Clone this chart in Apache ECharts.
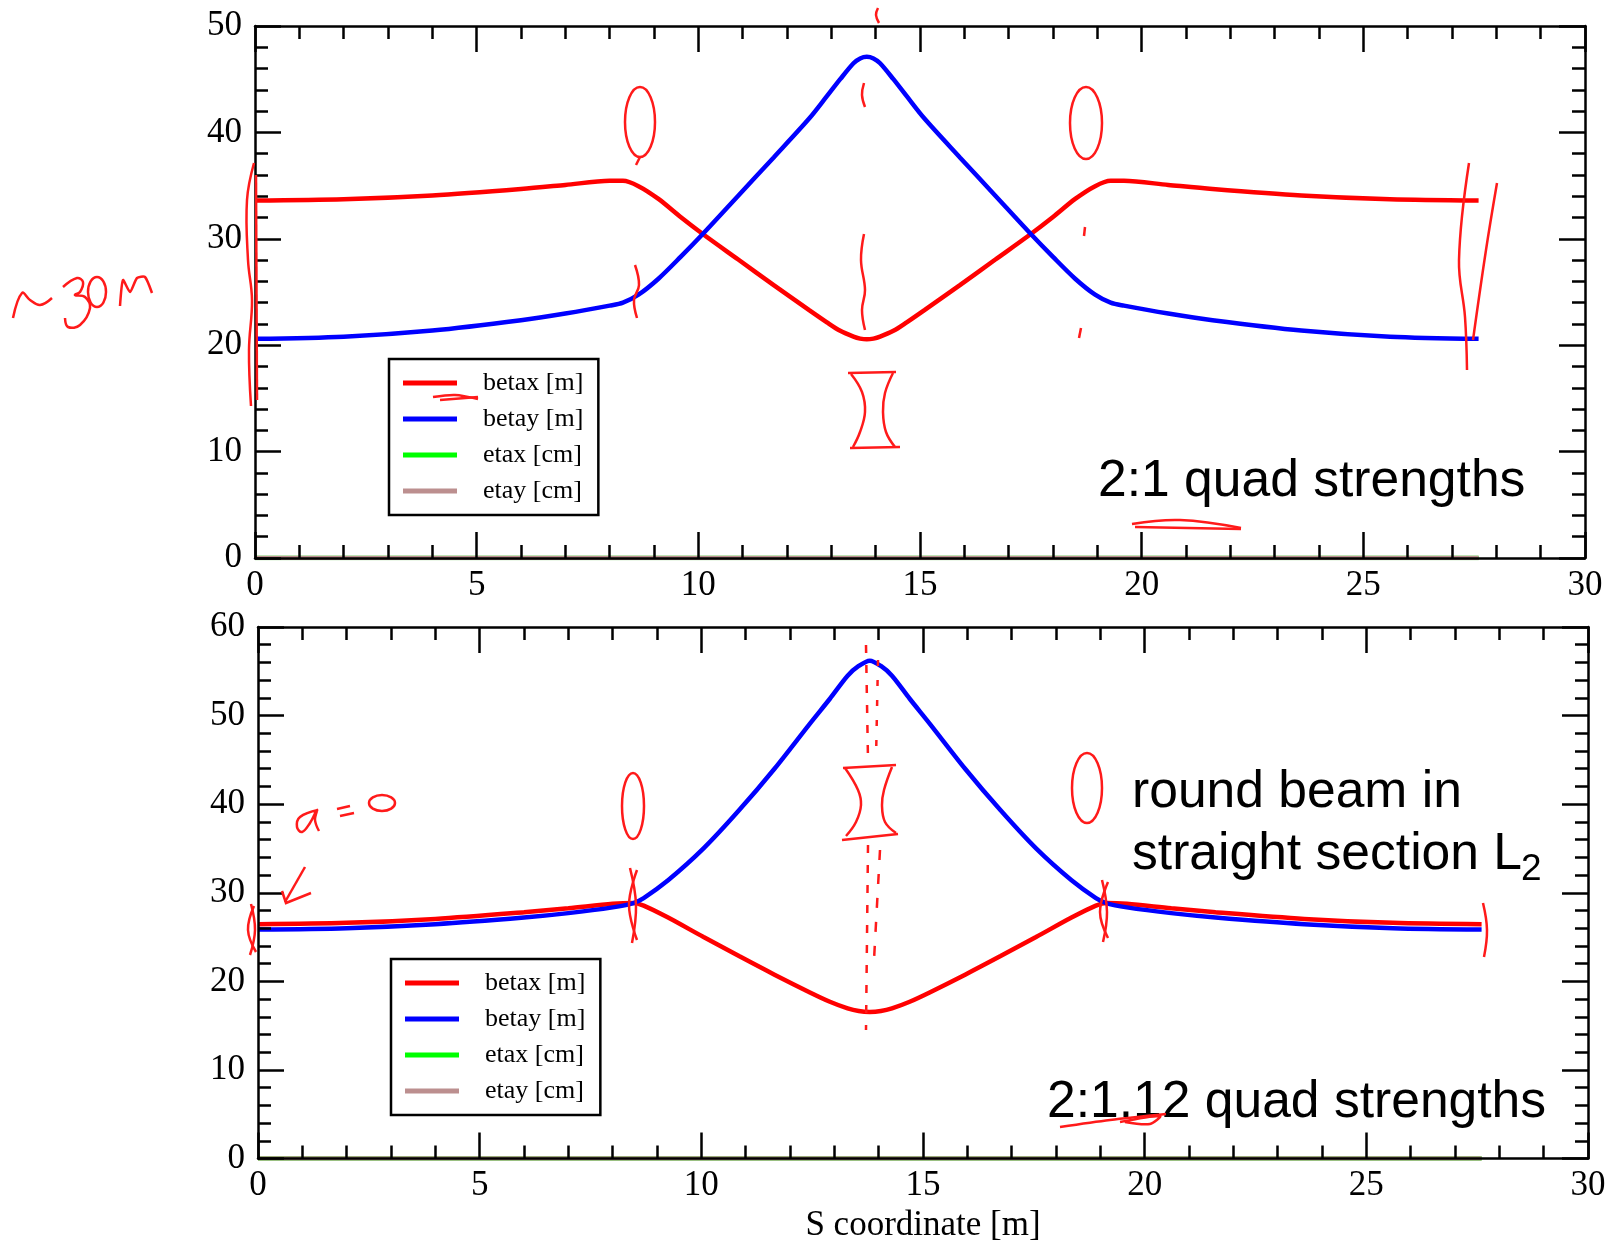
<!DOCTYPE html>
<html lang="en">
<head>
    <meta charset="UTF-8">
    <title>beta functions</title>
    <style>
        html, body {margin: 0; padding: 0; background: #fff;}
        #main {width: 1611px; height: 1244px;}
    </style>
</head>
<body>
<div id="main"></div>
<script src="https://cdn.jsdelivr.net/npm/echarts@6/dist/echarts.min.js"></script>
<script>
    // 上图: 2:1 quad strengths
    const sTop = [0, 2, 4, 6, 7, 8, 8.3, 8.65, 9.1, 9.6, 10.1, 10.9, 11.7, 12.5, 12.9, 13.2, 13.5,
        13.65, 13.8, 13.95, 14.1, 14.4, 14.7, 15.1, 15.9, 16.7, 17.5, 18.0, 18.5, 18.95, 19.3,
        19.6, 20.6, 21.6, 23.6, 25.6, 27.6]
    const betaxTop = [33.6, 33.72, 34.08, 34.68, 35.06, 35.45, 35.45, 34.95, 33.75, 32.05, 30.45,
        28.05, 25.65, 23.3, 22.15, 21.35, 20.8, 20.62, 20.55, 20.62, 20.8, 21.35, 22.15, 23.3,
        25.65, 28.05, 30.45, 32.05, 33.75, 34.95, 35.45, 35.45, 35.06, 34.68, 34.08, 33.72, 33.6]
    const betayTop = [20.6, 20.8, 21.38, 22.35, 22.98, 23.72, 24.0, 24.75, 26.25, 28.3, 30.45,
        34.05, 37.65, 41.3, 43.4, 45.0, 46.5, 46.95, 47.1, 46.95, 46.5, 45.0, 43.4, 41.3, 37.65,
        34.05, 30.45, 28.3, 26.25, 24.75, 24.0, 23.72, 22.98, 22.35, 21.38, 20.8, 20.6]

    // 下图: 2:1.12 quad strengths
    const sBot = [0, 2, 4, 6, 7, 8, 8.45, 8.7, 9.25, 10.05, 10.85, 11.65, 12.45, 12.9, 13.3, 13.55,
        13.8, 14.05, 14.3, 14.7, 15.15, 15.95, 16.75, 17.55, 18.35, 18.9, 19.15, 19.6, 20.6,
        21.6, 23.6, 25.6, 27.6]
    const betaxBot = [26.45, 26.6, 27.05, 27.8, 28.25, 28.75, 28.85, 28.55, 27.2, 25.0, 22.85,
        20.75, 18.75, 17.7, 16.95, 16.65, 16.55, 16.65, 16.95, 17.7, 18.75, 20.75, 22.85, 25.0,
        27.2, 28.55, 28.85, 28.75, 28.25, 27.8, 27.05, 26.6, 26.45]
    const betayBot = [25.85, 26.0, 26.45, 27.2, 27.7, 28.35, 28.8, 29.4, 31.4, 35.0, 39.3,
        44.0, 49.1, 51.9, 54.5, 55.6, 56.2, 55.6, 54.5, 51.9, 49.1, 44.0, 39.3, 35.0, 31.4, 29.4,
        28.8, 28.35, 27.7, 27.2, 26.45, 26.0, 25.85]

    // 色散 (两图都为0)
    const sEta = [0, 27.6]
    const etaxVals = [0, 0]
    const etayVals = [0, 0]

    const names = ['betax [m]', 'betay [m]', 'etax [cm]', 'etay [cm]']
    const colors = ['#ff0000', '#0000ff', '#00ff00', '#bc8f8f']

    const serif = '"Liberation Serif", "Times New Roman", serif'
    const sans = '"Liberation Sans", Arial, sans-serif'
    const red = '#ff1a1a'

    function pairs(s, v) {
        return s.map((x, i) => [x, v[i]])
    }

    function xAxis(grid, pos, showLabel, extra) {
        return Object.assign({
            type: 'value', gridIndex: grid, position: pos, min: 0, max: 30, interval: 5, z: 5,
            axisLine: {show: true, onZero: false, lineStyle: {color: '#000', width: 2.5}},
            axisTick: {show: true, inside: true, length: 26, lineStyle: {color: '#000', width: 2.5}},
            minorTick: {show: true, splitNumber: 5, length: 13, lineStyle: {color: '#000', width: 2.5}},
            axisLabel: {show: showLabel, color: '#000', fontSize: 35, fontFamily: serif, margin: 10},
            splitLine: {show: false}
        }, extra || {})
    }

    function yAxis(grid, pos, max, showLabel) {
        return {
            type: 'value', gridIndex: grid, position: pos, min: 0, max: max, interval: 10, z: 5,
            axisLine: {show: true, onZero: false, lineStyle: {color: '#000', width: 2.5}},
            axisTick: {show: true, inside: true, length: 26, lineStyle: {color: '#000', width: 2.5}},
            minorTick: {show: true, splitNumber: 5, length: 13, lineStyle: {color: '#000', width: 2.5}},
            axisLabel: {show: showLabel, color: '#000', fontSize: 35, fontFamily: serif, margin: 13},
            splitLine: {show: false}
        }
    }

    function lineSeries(name, color, data, axis) {
        return {
            name: name, type: 'line', xAxisIndex: axis, yAxisIndex: axis,
            data: data, showSymbol: false, smooth: 0.3, color: color,
            lineStyle: {color: color, width: 4.5}
        }
    }

    function legend(left, top) {
        return {
            data: names, orient: 'vertical', left: left, top: top, icon: 'rect',
            itemWidth: 54, itemHeight: 5, itemGap: 6, selectedMode: false,
            padding: [9, 15, 9, 14], backgroundColor: '#fff',
            borderColor: '#000', borderWidth: 2.5,
            textStyle: {fontSize: 26, fontFamily: serif, color: '#000', lineHeight: 30, padding: [0, 0, 0, 21]}
        }
    }

    // 手写批注
    function stroke(points, smooth, dash) {
        return {
            type: 'polyline', silent: true, z: 100,
            shape: {points: points, smooth: smooth || 0},
            style: {stroke: red, lineWidth: 2.5, fill: null, lineDash: dash || null}
        }
    }

    function lens(cx, cy, rx, ry) {
        return {
            type: 'ellipse', silent: true, z: 100,
            shape: {cx: cx, cy: cy, rx: rx, ry: ry},
            style: {stroke: red, lineWidth: 2.5, fill: 'transparent'}
        }
    }

    function label(text, x, y, size) {
        return {
            type: 'text', x: x, y: y, z: 90, silent: true,
            style: {
                text: text, font: size + 'px ' + sans, fill: '#000',
                textAlign: 'left', textVerticalAlign: 'middle', align: 'left', verticalAlign: 'middle'
            }
        }
    }

    const notes = [
        label('2:1 quad strengths', 1098, 482, 51.6),
        label('2:1.12 quad strengths', 1047, 1103, 51.6),
        label('round beam in', 1132, 793, 51.6),
        label('straight section L', 1132, 855, 51.6),
        label('2', 1521, 870, 37),

        // ~30 M
        stroke([[13, 318], [22, 293], [30, 300], [40, 305], [52, 298]], 0.4),
        stroke([[63, 287], [77, 278], [83, 282], [80, 292], [75, 295], [85, 297], [90, 308], [80, 325], [68, 327], [65, 318]], 0.4),
        lens(97, 292, 9, 15),
        stroke([[120, 306], [123, 280], [130, 292], [137, 278], [145, 277], [152, 293]], 0.2),

        // 上图批注
        stroke([[254, 163], [247, 200], [248, 260], [252, 300], [249, 350], [251, 406]], 0.4),
        stroke([[256, 175], [257, 400]], 0),
        lens(640, 122, 15, 35),
        stroke([[640, 157], [636, 165]], 0),
        stroke([[635, 265], [639, 285], [634, 300], [637, 318]], 0.4),
        lens(1086, 123, 16, 36),
        stroke([[864, 83], [862, 95], [865, 107]], 0.4),
        stroke([[878, 8], [876, 15], [879, 23]], 0.4),
        stroke([[864, 234], [861, 260], [865, 290], [862, 310], [865, 330]], 0.4),
        stroke([[848, 373], [896, 372]], 0),
        stroke([[851, 374], [862, 392], [865, 412], [860, 432], [853, 447]], 0.4),
        stroke([[893, 373], [885, 393], [883, 412], [886, 432], [895, 447]], 0.4),
        stroke([[850, 448], [900, 447]], 0),
        stroke([[1085, 227], [1084, 236]], 0),
        stroke([[1081, 328], [1079, 338]], 0),
        stroke([[1469, 163], [1459, 260], [1465, 317], [1467, 370]], 0.4),
        stroke([[1497, 183], [1486, 250], [1473, 340]], 0.4),
        stroke([[1132, 524], [1180, 520], [1241, 528]], 0.4),
        stroke([[1135, 527], [1241, 529]], 0.3),
        stroke([[433, 397], [455, 395], [478, 399]], 0.3),
        stroke([[440, 400], [478, 397]], 0),

        // 下图批注
        stroke([[318, 810], [300, 817], [297, 827], [302, 832], [310, 823], [317, 810], [315, 820], [319, 831]], 0.4),
        stroke([[337, 809], [350, 806]], 0),
        stroke([[340, 816], [354, 813]], 0),
        lens(382, 803, 13, 8),
        stroke([[305, 867], [285, 902]], 0.2),
        stroke([[282, 891], [286, 903], [311, 893]], 0),
        stroke([[251, 904], [255, 930], [250, 955]], 0.4),
        stroke([[254, 906], [248, 930], [256, 952]], 0.4),
        lens(633, 806, 11, 33),
        stroke([[630, 868], [636, 905], [632, 943]], 0.4),
        stroke([[637, 870], [629, 905], [637, 940]], 0.4),
        lens(1087, 788, 15, 35),
        stroke([[1102, 880], [1107, 912], [1103, 942]], 0.4),
        stroke([[1108, 882], [1100, 912], [1108, 938]], 0.4),
        stroke([[1483, 903], [1487, 930], [1484, 957]], 0.4),
        stroke([[866, 645], [868, 760]], 0, [8, 12]),
        stroke([[878, 660], [876, 760]], 0, [6, 14]),
        stroke([[868, 845], [866, 1030]], 0, [8, 12]),
        stroke([[880, 850], [874, 960]], 0, [10, 14]),
        stroke([[843, 768], [896, 765]], 0),
        stroke([[845, 768], [858, 790], [861, 805], [856, 822], [846, 836]], 0.4),
        stroke([[892, 767], [884, 790], [882, 805], [885, 822], [896, 833]], 0.4),
        stroke([[842, 840], [898, 834]], 0),
        stroke([[1060, 1127], [1110, 1120], [1166, 1114]], 0.3),
        stroke([[1120, 1122], [1160, 1116], [1150, 1124], [1125, 1122]], 0.3)
    ]

    const chart = echarts.init(document.getElementById('main'))
    const option = {
        backgroundColor: '#fff',
        animation: false,
        grid: [
            {left: 255, top: 26, width: 1330, height: 532, outerBoundsMode: 'none', containLabel: false},
            {left: 258, top: 627, width: 1330, height: 531.5, outerBoundsMode: 'none', containLabel: false}
        ],
        xAxis: [
            xAxis(0, 'bottom', true),
            xAxis(0, 'top', false),
            xAxis(1, 'bottom', true, {
                name: 'S coordinate [m]', nameLocation: 'middle', nameGap: 50,
                nameTextStyle: {fontSize: 35, fontFamily: serif, color: '#000'}
            }),
            xAxis(1, 'top', false)
        ],
        yAxis: [
            yAxis(0, 'left', 50, true),
            yAxis(0, 'right', 50, false),
            yAxis(1, 'left', 60, true),
            yAxis(1, 'right', 60, false)
        ],
        legend: [legend(389, 359), legend(391, 959)],
        series: [
            lineSeries(names[0], colors[0], pairs(sTop, betaxTop), 0),
            lineSeries(names[1], colors[1], pairs(sTop, betayTop), 0),
            lineSeries(names[2], colors[2], pairs(sEta, etaxVals), 0),
            lineSeries(names[3], colors[3], pairs(sEta, etayVals), 0),
            lineSeries(names[0], colors[0], pairs(sBot, betaxBot), 2),
            lineSeries(names[1], colors[1], pairs(sBot, betayBot), 2),
            lineSeries(names[2], colors[2], pairs(sEta, etaxVals), 2),
            lineSeries(names[3], colors[3], pairs(sEta, etayVals), 2)
        ],
        graphic: notes
    }
    chart.setOption(option)
</script>
</body>
</html>
